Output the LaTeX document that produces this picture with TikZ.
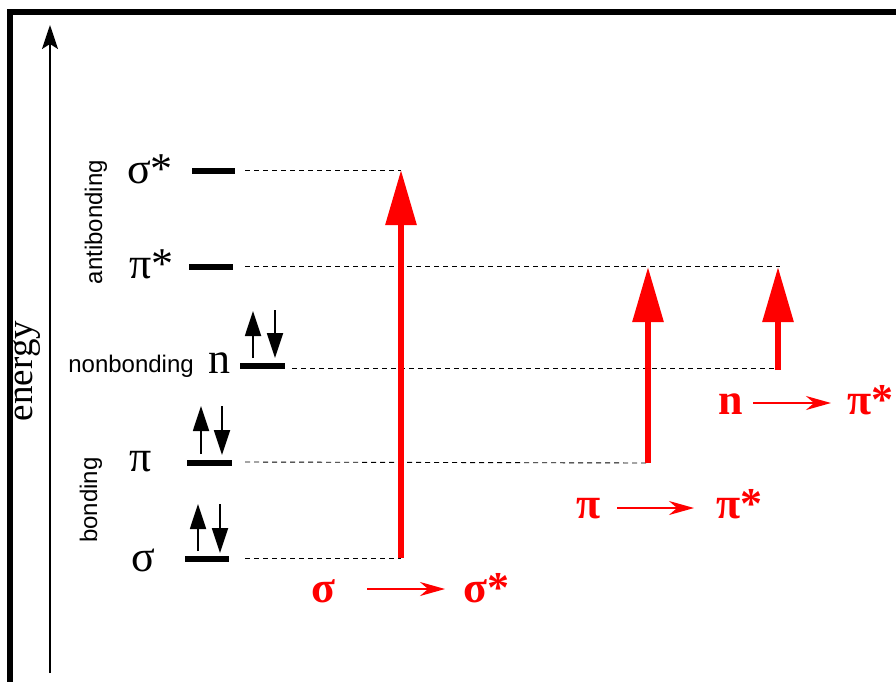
\documentclass[tikz,border=0pt]{standalone}
\usepackage{fontspec}
\setmainfont{Liberation Serif}
\setsansfont{Liberation Sans}
\usetikzlibrary{arrows.meta}
\begin{document}
\begin{tikzpicture}[x=1pt,y=-1pt,
  levelbar/.style={line width=5.5pt},
  guide/.style={line width=0.9pt, dash pattern=on 5pt off 4pt},
  elec/.style={line width=1.8pt, -{Triangle[length=25pt,width=16pt]}},
  trans/.style={red, line width=6pt, -{Triangle[length=55pt,width=30pt]}},
  smallarr/.style={red, line width=2pt, -{Stealth[length=25pt,width=14pt,inset=8pt]}},
  orb/.style={font=\fontsize{44}{46}\selectfont, inner sep=0pt, anchor=base west},
  redlab/.style={red, font=\fontsize{44}{46}\selectfont\bfseries, inner sep=0pt, anchor=base west},
  side/.style={font=\sffamily\fontsize{24}{25}\selectfont, inner sep=0pt}
]
\useasboundingbox (0,0) rectangle (896,681);
\clip (0,0) rectangle (896,681);
\fill[white] (0,0) rectangle (896,681);

% frame
\coordinate (fbl) at (10,700);
\coordinate (ftl) at (10,11.5);
\coordinate (ftr) at (910,11.5);
\draw[line width=6pt] (fbl) -- (ftl) -- (ftr);

% energy axis
\coordinate (ea0) at (50,673);
\coordinate (ea1) at (50,25);
\draw[line width=1.5pt, -{Stealth[length=24pt,width=16pt,inset=5pt]}] (ea0) -- (ea1);
\node[rotate=90, font=\fontsize{37}{38}\selectfont, inner sep=0pt] (energy) at (27,371) {energy};

% side labels
\node[side, rotate=90] (anti) at (96,222) {antibonding};
\node[side, rotate=90] (bond) at (91,500) {bonding};
\node[side, anchor=base east] (nonb) at (194,372) {nonbonding};

% orbital labels
\node[orb] (lsstar) at (127,183) {σ*};
\node[orb] (lpstar) at (129,278) {π*};
\node[orb] (ln) at (208,373) {n};
\node[orb] (lp) at (129,471) {π};
\node[orb] (ls) at (131,571) {σ};

% level bars
\coordinate (sstarA) at (192,171); \coordinate (sstarB) at (235,171);
\coordinate (pstarA) at (189,267); \coordinate (pstarB) at (233,267);
\coordinate (nA) at (240,366); \coordinate (nB) at (285,366);
\coordinate (pA) at (187,463); \coordinate (pB) at (232,463);
\coordinate (sA) at (185,559); \coordinate (sB) at (229,559);
\draw[levelbar] (sstarA) -- (sstarB);
\draw[levelbar] (pstarA) -- (pstarB);
\draw[levelbar] (nA) -- (nB);
\draw[levelbar] (pA) -- (pB);
\draw[levelbar] (sA) -- (sB);

% transition end points
\coordinate (t1a) at (401,558); \coordinate (t1b) at (401,170);
\coordinate (t2a) at (648,463); \coordinate (t2b) at (648,267);
\coordinate (t3a) at (778,370); \coordinate (t3b) at (778,267);

% dashed guides
\coordinate (g1) at (245,170); \coordinate (g2) at (245,266);
\coordinate (g3) at (292,368); \coordinate (g3e) at (775,368);
\coordinate (g4) at (245,462); \coordinate (g5) at (245,558);
\coordinate (g2e) at (780,266);
\draw[guide] (g1) -- (t1b);
\draw[guide] (g2) -- (g2e);
\draw[guide] (g3) -- (g3e);
\draw[guide] (g4) -- (t2a);
\draw[guide] (g5) -- (t1a);

% electrons
\coordinate (nu0) at (253,358); \coordinate (nu1) at (253,311);
\coordinate (nd0) at (275,310); \coordinate (nd1) at (275,358);
\coordinate (pu0) at (201,454); \coordinate (pu1) at (201,406);
\coordinate (pd0) at (222,406); \coordinate (pd1) at (222,455);
\coordinate (su0) at (198,551); \coordinate (su1) at (198,504);
\coordinate (sd0) at (220,504); \coordinate (sd1) at (220,553);
\draw[elec] (nu0) -- (nu1);
\draw[elec] (nd0) -- (nd1);
\draw[elec] (pu0) -- (pu1);
\draw[elec] (pd0) -- (pd1);
\draw[elec] (su0) -- (su1);
\draw[elec] (sd0) -- (sd1);

% transitions
\draw[trans] (t1a) -- (t1b);
\draw[trans] (t2a) -- (t2b);
\draw[trans] (t3a) -- (t3b);

% transition labels
\node[redlab] (r1a) at (311,602) {σ};
\coordinate (r1s) at (367,589); \coordinate (r1e) at (445,589);
\draw[smallarr] (r1s) -- (r1e);
\node[redlab] (r1b) at (463,602) {σ*};

\node[redlab] (r2a) at (576,518) {π};
\coordinate (r2s) at (617,508); \coordinate (r2e) at (694,508);
\draw[smallarr] (r2s) -- (r2e);
\node[redlab] (r2b) at (716,518) {π*};

\node[redlab] (r3a) at (718,414) {n};
\coordinate (r3s) at (753,403); \coordinate (r3e) at (831,403);
\draw[smallarr] (r3s) -- (r3e);
\node[redlab] (r3b) at (847,414) {π*};
\end{tikzpicture}
\end{document}
